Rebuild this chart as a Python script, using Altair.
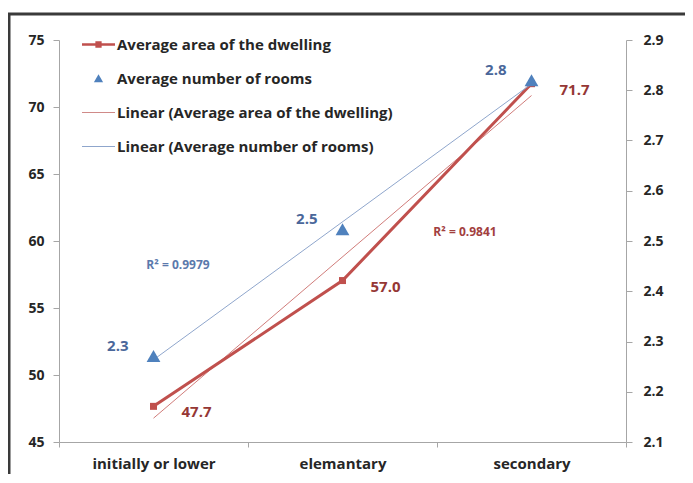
import json
import altair as alt
import pandas as pd

# ---- data ----
categories = ["initially or lower", "elemantary", "secondary"]
area = [47.66, 57.048, 71.74]         # Average area of the dwelling (left axis)
rooms = [2.271, 2.5235, 2.82]         # Average number of rooms (right axis)
left_ticks = [45, 50, 55, 60, 65, 70, 75]
right_ticks = [2.1, 2.2, 2.3, 2.4, 2.5, 2.6, 2.7, 2.8, 2.9]
area_name = "Average area of the dwelling"
rooms_name = "Average number of rooms"
legend_names = [
    area_name,
    rooms_name,
    "Linear (Average area of the dwelling)",
    "Linear (Average number of rooms)",
]

df = pd.DataFrame({"cat": categories, "idx": list(range(1, len(categories) + 1)),
                   "area": area, "rooms": rooms})

RED = "#C0504D"
BLUE = "#4F81BD"
RED_TXT = "#953735"
BLUE_TXT = "#4A679A"
FONT = "Open Sans"
W, H = 567, 402
AXIS_GRAY = "#A6A6A6"

cat_expr = json.dumps(categories) + "[round(datum.idx) - 1]"

x_enc = alt.X(
    "cat:N", sort=categories,
    scale=alt.Scale(type="band", domain=categories, paddingInner=0, paddingOuter=0),
    axis=alt.Axis(title=None, labelAngle=0, tickBand="extent", tickSize=5,
                  labelPadding=9, labelFontSize=15,
                  domainColor=AXIS_GRAY, tickColor=AXIS_GRAY),
)
y_left = alt.Y(
    "area:Q", scale=alt.Scale(domain=[45, 75], nice=False, zero=False),
    axis=alt.Axis(title=None, orient="left", values=left_ticks, grid=False,
                  tickSize=6, labelPadding=9, domainColor=AXIS_GRAY, tickColor=AXIS_GRAY),
)
y_right = alt.Y(
    "rooms:Q", scale=alt.Scale(domain=[2.1, 2.9], nice=False, zero=False),
    axis=alt.Axis(title=None, orient="right", values=right_ticks, format=".1f", grid=False,
                  tickSize=6, labelPadding=11, domainColor=AXIS_GRAY, tickColor=AXIS_GRAY),
)

base = alt.Chart(df)

# ---- left series ----
area_trend = (
    base.transform_regression("idx", "area", method="linear")
    .transform_calculate(cat=cat_expr)
    .mark_line(color=RED, strokeWidth=1, opacity=0.75)
    .encode(x=x_enc, y=y_left)
)
area_line = base.mark_line(
    color=RED, strokeWidth=3,
    point=alt.OverlayMarkDef(shape="square", size=49, color=RED, filled=True, opacity=1),
).encode(x=x_enc, y=y_left)
area_text = base.mark_text(
    align="left", baseline="middle", dx=28, dy=6, color=RED_TXT,
    font=FONT, fontWeight="bold", fontSize=15,
).encode(x=x_enc, y=y_left, text=alt.Text("area:Q", format=".1f"))
area_r2 = (
    base.transform_regression("idx", "area", method="linear", params=True)
    .transform_calculate(label="'R² = ' + format(datum.rSquared, '.4f')")
    .mark_text(align="center", baseline="middle", color="#A2403E",
               font=FONT, fontWeight="bold", fontSize=12)
    .encode(x=alt.value(406), y=alt.value(192), text="label:N")
)
left = alt.layer(area_trend, area_line, area_text, area_r2)

# ---- right series ----
rooms_trend = (
    base.transform_regression("idx", "rooms", method="linear")
    .transform_calculate(cat=cat_expr)
    .mark_line(color="#8FA6CC", strokeWidth=1)
    .encode(x=x_enc, y=y_right)
)
rooms_pts = base.mark_point(
    shape="triangle-up", size=190, filled=True, color=BLUE, opacity=1
).encode(x=x_enc, y=y_right)
rooms_text = base.mark_text(
    align="right", baseline="middle", dx=-25, dy=-10, color=BLUE_TXT,
    font=FONT, fontWeight="bold", fontSize=15,
).encode(x=x_enc, y=y_right, text=alt.Text("rooms:Q", format=".1f"))
rooms_r2 = (
    base.transform_regression("idx", "rooms", method="linear", params=True)
    .transform_calculate(label="'R² = ' + format(datum.rSquared, '.4f')")
    .mark_text(align="center", baseline="middle", color="#5B79AC",
               font=FONT, fontWeight="bold", fontSize=12)
    .encode(x=alt.value(119), y=alt.value(225), text="label:N")
)
right = alt.layer(rooms_trend, rooms_pts, rooms_text, rooms_r2)

# ---- legend (empty layer, legend built from explicit scale domain) ----
legend_shapes = [
    "M-1,-0.08H1V0.08H-1Z M-0.19,-0.19H0.19V0.19H-0.19Z",
    "M0,-0.26L0.28,0.22H-0.28Z",
    "M-1,-0.035H1V0.035H-1Z",
    "M-1,-0.035H1V0.035H-1Z",
]
legend_def = alt.Legend(title=None, orient="none", legendX=23, legendY=-12,
                        symbolSize=1089, symbolStrokeWidth=0, rowPadding=9,
                        padding=0, labelOffset=2, labelFont=FONT, labelLimit=500,
                        labelFontWeight="bold", labelFontSize=15,
                        labelColor="#262626")
legend_layer = base.transform_filter("false").mark_point(filled=True, opacity=1).encode(
    color=alt.Color("series:N", scale=alt.Scale(domain=legend_names,
                                                range=[RED, BLUE, "#D08A88", "#8FA6CC"]),
                    legend=legend_def),
    shape=alt.Shape("series:N", scale=alt.Scale(domain=legend_names, range=legend_shapes),
                    legend=legend_def),
)

# ---- outer frame of the chart area ----
frame = alt.Chart(alt.Data(values=[{}])).mark_rect(
    fillOpacity=0, stroke="#3A3A3A", strokeWidth=3
).encode(x=alt.value(-50), y=alt.value(-26), x2=alt.value(700), y2=alt.value(600))

chart = (
    alt.layer(frame, left, right, legend_layer)
    .resolve_scale(y="independent")
    .properties(
        width=W, height=H,
        autosize=alt.AutoSizeParams(type="none"),
        padding={"left": 51, "top": 32, "right": 59, "bottom": 32},
        background="white",
    )
    .configure_view(stroke=None)
    .configure_axis(labelFont=FONT, labelFontWeight="bold", labelFontSize=14,
                    labelColor="#262626")
)

chart.save("out.html", embed_options={"renderer": "svg", "actions": False})
